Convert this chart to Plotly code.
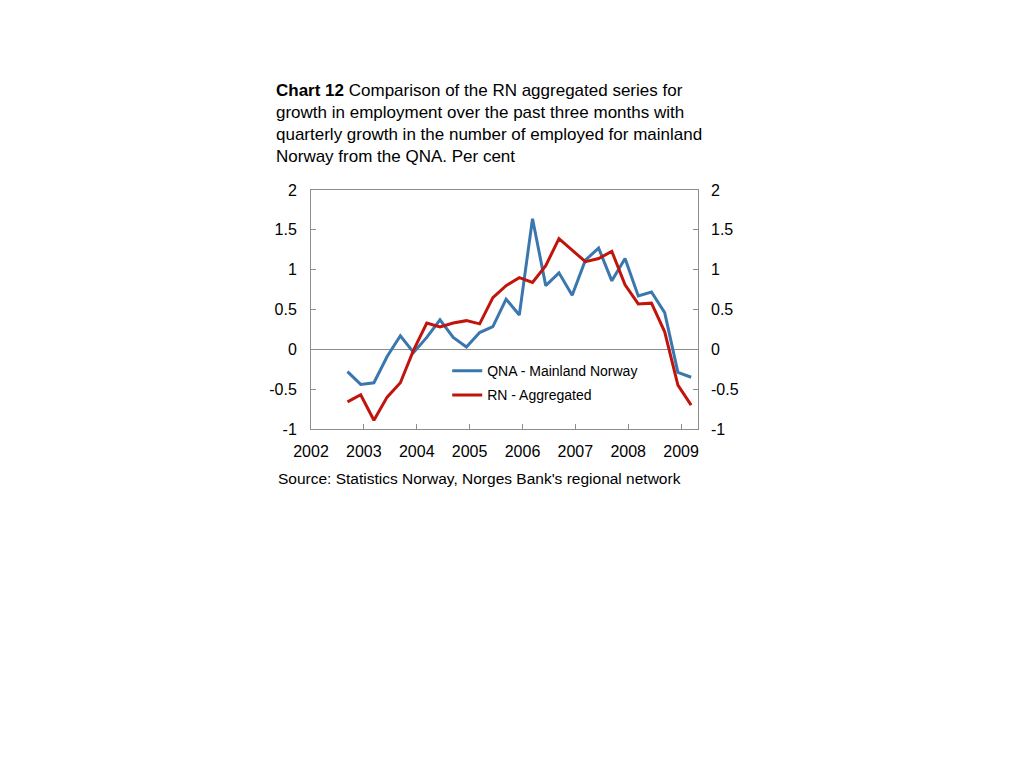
import plotly.graph_objects as go

# Quarterly observations, first at Q3 2002 (decimal-year positions)
start_year = 2002.69
n_obs = 27
x_vals = [start_year + 0.25 * i for i in range(n_obs)]

qna_mainland = [-0.28, -0.44, -0.42, -0.09, 0.17, -0.04, 0.15, 0.37, 0.15, 0.03,
                0.21, 0.285, 0.63, 0.43, 1.64, 0.80, 0.96, 0.68, 1.12, 1.27,
                0.86, 1.14, 0.67, 0.72, 0.46, -0.29, -0.35]
rn_aggregated = [-0.66, -0.57, -0.89, -0.60, -0.42, -0.01, 0.33, 0.28, 0.33, 0.36,
                 0.32, 0.65, 0.80, 0.90, 0.84, 1.05, 1.39, 1.25, 1.10, 1.14,
                 1.23, 0.81, 0.57, 0.58, 0.22, -0.45, -0.70]

x_ticks = [2002, 2003, 2004, 2005, 2006, 2007, 2008, 2009]
x_tick_labels = ["2002", "2003", "2004", "2005", "2006", "2007", "2008", "2009"]
y_ticks = [-1, -0.5, 0, 0.5, 1, 1.5, 2]
y_tick_labels = ["-1", "-0.5", "0", "0.5", "1", "1.5", "2"]

BLUE = "#3A77AF"
RED = "#C0150C"
AXIS = "#8C8C8C"
FONT = "Liberation Sans, Arial, sans-serif"

fig = go.Figure()
fig.add_trace(go.Scatter(x=x_vals, y=qna_mainland, mode="lines",
                         name="QNA - Mainland Norway", legendgroup="a",
                         line=dict(color=BLUE, width=3)))
fig.add_trace(go.Scatter(x=x_vals, y=rn_aggregated, mode="lines",
                         name="RN - Aggregated", legendgroup="b",
                         line=dict(color=RED, width=3)))

fig.update_layout(
    width=1024, height=768,
    paper_bgcolor="white", plot_bgcolor="white",
    margin=dict(l=303, r=334, t=182, b=347, pad=0),
    font=dict(family=FONT, size=16, color="black"),
    showlegend=True,
    legend=dict(x=0.352, y=0.309, xanchor="left", yanchor="top",
                bgcolor="rgba(0,0,0,0)", font=dict(size=14),
                traceorder="grouped", tracegroupgap=3, itemwidth=30),
    xaxis=dict(range=[2002, 2009.32], tickvals=x_ticks, ticktext=x_tick_labels,
               ticks="inside", ticklen=5, tickcolor=AXIS, showgrid=False,
               showline=True, linecolor=AXIS, linewidth=1, mirror=True,
               zeroline=False, tickfont=dict(size=16), ticklabelstandoff=8),
    yaxis=dict(range=[-1, 2], tickvals=y_ticks, ticktext=y_tick_labels,
               ticks="inside", ticklen=5, tickcolor=AXIS, showgrid=False,
               showline=True, linecolor=AXIS, linewidth=1, mirror=True,
               zeroline=True, zerolinecolor=AXIS, zerolinewidth=1,
               tickfont=dict(size=16), ticklabelstandoff=10),
    yaxis2=dict(range=[-1, 2], tickvals=y_ticks, ticktext=y_tick_labels,
                overlaying="y", side="right", ticks="inside", ticklen=5,
                tickcolor=AXIS, showgrid=False, zeroline=False,
                showline=False, tickfont=dict(size=16), ticklabelstandoff=12),
)

# dummy anchor so the right-hand axis is drawn
fig.add_trace(go.Scatter(x=x_vals, y=rn_aggregated, yaxis="y2", mode="lines",
                         line=dict(width=0), opacity=0, showlegend=False,
                         hoverinfo="skip"))

fig.add_annotation(
    xref="paper", yref="paper", x=-0.095, y=1.465, xanchor="left", yanchor="top",
    align="left", showarrow=False, font=dict(size=17, family=FONT),
    text=("<b>Chart 12</b> Comparison of the RN aggregated series for<br>"
          "growth in employment over the past three months with<br>"
          "quarterly growth in the number of employed for mainland<br>"
          "Norway from the QNA. Per cent"),
)
fig.add_annotation(
    xref="paper", yref="paper", x=-0.09, y=-0.165, xanchor="left", yanchor="top",
    align="left", showarrow=False, font=dict(size=15.5, family=FONT),
    text="Source: Statistics Norway, Norges Bank's regional network",
)

fig.write_html("out.html")
